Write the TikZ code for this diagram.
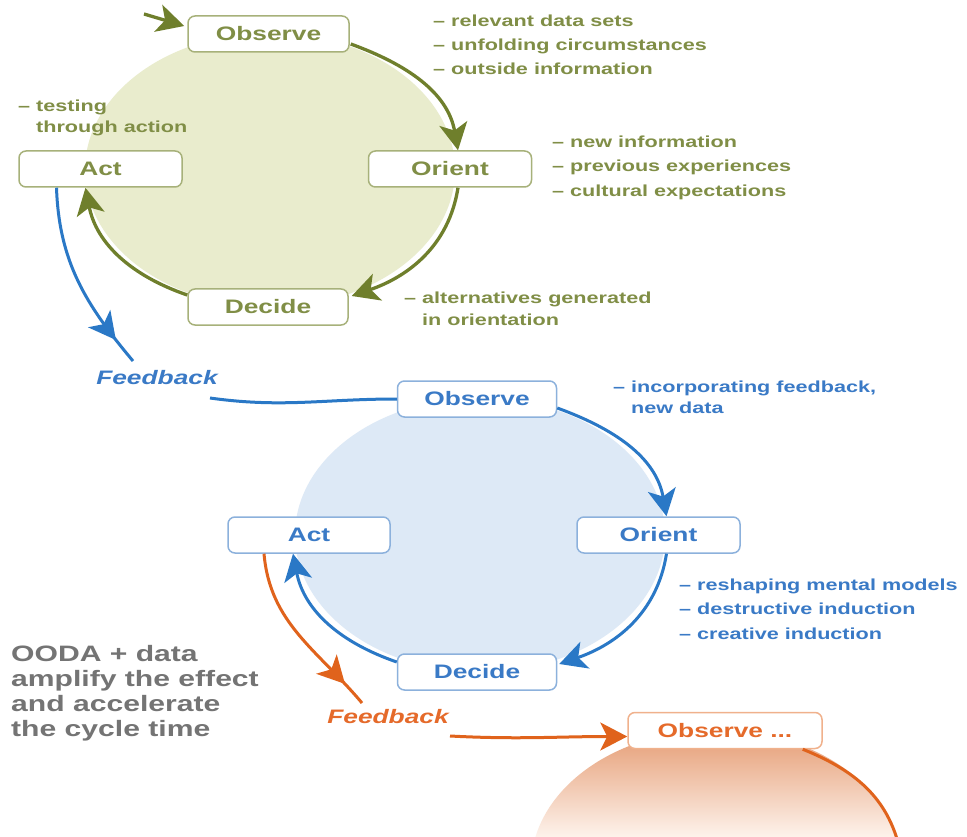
\documentclass[tikz,border=0pt]{standalone}
\usepackage{fontspec}
\setmainfont{Liberation Sans}[FakeStretch=1.35]
\usetikzlibrary{arrows.meta,calc,decorations.markings}
\definecolor{gline}{HTML}{6F7F2C}
\definecolor{gtext}{HTML}{808E46}
\definecolor{gborder}{HTML}{A7B17A}
\definecolor{gfill}{HTML}{E9ECCD}
\definecolor{bline}{HTML}{2A78C6}
\definecolor{btext}{HTML}{3A7AC6}
\definecolor{bborder}{HTML}{8CB1DC}
\definecolor{bfill}{HTML}{DDE9F6}
\definecolor{oline}{HTML}{E0631C}
\definecolor{otext}{HTML}{E56A2A}
\definecolor{oborder}{HTML}{F0B18C}
\definecolor{otop}{HTML}{E59B72}
\definecolor{obot}{HTML}{FEF5EF}
\definecolor{graytext}{HTML}{747474}
\tikzset{
  box/.style={draw, rounded corners=7pt, fill=white, line width=1.5pt,
    minimum height=36pt, inner sep=0pt, font=\fontsize{19.5}{22}\selectfont\bfseries},
  gbox/.style={box, draw=gborder, text=gtext},
  bbox/.style={box, draw=bborder, text=btext},
  obox/.style={box, draw=oborder, text=otext},
  note/.style={anchor=base west, inner sep=0pt, font=\fontsize{16}{20}\selectfont\bfseries},
  graynote/.style={anchor=base west, inner sep=0pt, text=graytext, font=\fontsize{22.3}{24}\selectfont\bfseries},
  fbstyle/.style={inner sep=0pt, font=\fontsize{19.5}{22}\selectfont\bfseries\itshape},
  headtip/.tip={Stealth[length=27pt,width=28pt,inset=7pt]},
  garr/.style={draw=gline, line width=3.3pt, -headtip},
  barr/.style={draw=bline, line width=3pt, -headtip},
  oarr/.style={draw=oline, line width=3pt, -headtip},
  fbmark/.style={postaction={decorate}, decoration={markings,
    mark=at position 0.86 with {\arrow{headtip}}}}
}
\begin{document}
\begin{tikzpicture}[x=1pt,y=1pt]
\useasboundingbox (0,0) rectangle (967,-837);
\clip (0,0) rectangle (967,-837);
\fill[white] (0,0) rectangle (967,-837);
% circle fills
\fill[gfill] (270,-170) ellipse [x radius=185pt, y radius=137pt];
\fill[bfill] (480,-535) ellipse [x radius=185pt, y radius=137pt];
\begin{scope}
  \clip (716,-867) ellipse [x radius=185pt, y radius=137pt];
  \shade[top color=otop, bottom color=obot] (520,-730) rectangle (910,-840);
\end{scope}
% boxes
\node[gbox, minimum width=161pt] (o1) at (268.5,-34) {Observe};
\node[gbox, minimum width=163pt] (a1) at (100.5,-169) {Act};
\node[gbox, minimum width=163pt] (r1) at (450,-169) {Orient};
\node[gbox, minimum width=160pt] (d1) at (268,-307) {Decide};
\node[bbox, minimum width=159pt] (o2) at (477,-399) {Observe};
\node[bbox, minimum width=162pt] (a2) at (309,-535) {Act};
\node[bbox, minimum width=163pt] (r2) at (658.5,-535) {Orient};
\node[bbox, minimum width=159pt] (d2) at (477,-672) {Decide};
\node[obox, minimum width=194pt] (o3) at (725,-730.5) {Observe ...};
% feedback labels
\node[fbstyle, text=btext] (fb1) at (157,-378) {Feedback};
\node[fbstyle, text=otext] (fb2) at (388,-717) {Feedback};
% green cycle
\coordinate (ein) at (144,-14);
\draw[garr] (ein) -- ($(o1.west)+(-3,8)$);
\draw[garr] ($(o1.east)+(1,-10)$) to[out=-20,in=100] ($(r1.north)+(8,0)$);
\draw[garr] ($(r1.south)+(8,0)$) to[out=-99,in=19] ($(d1.east)+(3,11)$);
\draw[garr] ($(d1.west)+(0,12)$) to[out=161,in=-79] ($(a1.south)+(-15,0)$);
% blue cycle
\draw[barr] ($(o2.east)+(0,-9)$) to[out=-20,in=100] ($(r2.north)+(8,0)$);
\draw[barr] ($(r2.south)+(8,0)$) to[out=-99,in=19] ($(d2.east)+(2,8)$);
\draw[barr] ($(d2.west)+(0,10)$) to[out=161,in=-79] ($(a2.south)+(-16,0)$);
% blue feedback
\draw[bline, line width=3pt, fbmark] ($(a1.south)+(-44,0)$) to[out=-88,in=130] ($(fb1.center)+(-24,17)$);
\draw[bline, line width=3pt] ($(fb1.center)+(53,-20)$) to[out=-8,in=180] (o2.west);
% orange feedback
\draw[oline, line width=3pt, fbmark] ($(a2.south)+(-45,0)$) to[out=-85,in=130] ($(fb2.center)+(-26,14)$);
\draw[oarr] ($(fb2.center)+(62,-19)$) to[out=-3,in=180] ($(o3.west)+(0,-6)$);
\coordinate (oend) at (900,-850);
\draw[oline, line width=3pt] ($(o3.south east)+(-20,0)$) to[out=-22,in=103] (oend);
% green notes
\node[note, text=gtext] (g1) at (433,-27) {– relevant data sets};
\node[note, text=gtext] (g2) at (433,-51) {– unfolding circumstances};
\node[note, text=gtext] (g3) at (433,-75) {– outside information};
\node[note, text=gtext] (g4) at (552,-148) {– new information};
\node[note, text=gtext] (g5) at (552,-172) {– previous experiences};
\node[note, text=gtext] (g6) at (552,-197) {– cultural expectations};
\node[note, text=gtext] (g7) at (404,-303) {– alternatives generated};
\node[note, text=gtext] (g8) at (422,-325) {in orientation};
\node[note, text=gtext] (g9) at (18,-112) {– testing};
\node[note, text=gtext] (g10) at (36,-133) {through action};
% blue notes
\node[note, text=btext] (b1) at (613,-392) {– incorporating feedback,};
\node[note, text=btext] (b2) at (631,-413) {new data};
\node[note, text=btext] (b3) at (679,-590) {– reshaping mental models};
\node[note, text=btext] (b4) at (679,-614) {– destructive induction};
\node[note, text=btext] (b5) at (679,-639) {– creative induction};
% gray text
\node[graynote] (t1) at (11,-661) {OODA + data};
\node[graynote] (t2) at (11,-686) {amplify the effect};
\node[graynote] (t3) at (11,-711) {and accelerate};
\node[graynote] (t4) at (11,-736) {the cycle time};
\end{tikzpicture}
\end{document}
